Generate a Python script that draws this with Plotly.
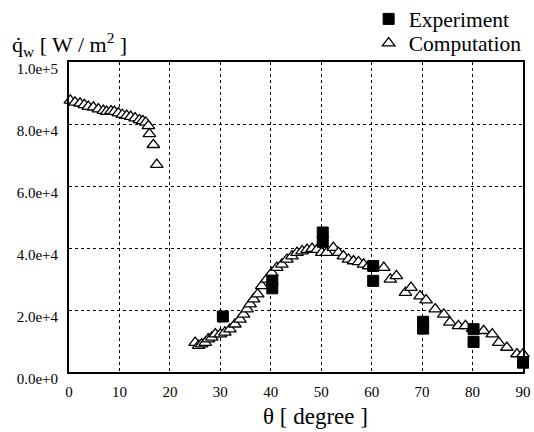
import plotly.graph_objects as go

# Computation (open triangles)
comp_theta = [0.26, 1.19, 2.18, 3.04, 3.83, 4.83, 5.82, 6.81, 7.47, 8.33, 9.0, 9.79,
              10.58, 11.44, 12.24, 13.1, 13.96, 14.62, 15.21, 15.74, 15.94, 16.73, 17.4,
              None,
              25.0, 25.7, 26.3, 27.0, 27.6, 28.3, 29.0, 30.0, 30.9, 31.9, 32.9, 33.9,
              34.6, 35.3, 35.9, 36.6, 37.4, 38.2, 39.2, 40.2, 41.2, 42.2, 43.2, 44.2,
              45.2, 46.2, 47.2, 48.2, 49.2, 50.1, 51.1, 52.4, 53.4, 54.4, 55.4, 56.4,
              57.4, 58.4, 59.4, 60.5, 62.4, 63.7, 64.9, 66.7, 67.8, 69.6, 70.8, 72.6,
              74.3, 75.5, 77.2, 78.6, 80.0, 82.2, 83.9, 85.2, 86.8, 88.8, 90.0]
comp_q = [87600, 87000, 86700, 86200, 85600, 85400, 84800, 84300, 84000, 84200, 84000, 83500,
          83000, 82700, 82400, 81900, 81300, 81000, 80500, 79400, 76800, 73300, 66900,
          None,
          9500, 8500, 9000, 9500, 10600, 11200, 12200, 12200, 12800, 13800, 15400, 17000,
          18600, 20300, 21900, 23500, 25100, 27800, 29900, 32000, 33700, 34700, 36300, 37400,
          38500, 39000, 39500, 39800, 39500, 38500, 38500, 40100, 38500, 37400, 36300, 35800,
          35500, 34700, 34200, 34000, 33700, 29900, 31000, 25600, 27200, 24500, 23200, 20300,
          18600, 16000, 14900, 14900, 14000, 13300, 12200, 9500, 7900, 5800, 5800]

# Experiment (filled squares)
exp_theta = [30.5, 40.3, 40.3, 50.3, 50.3, 60.3, 60.3, 70.2, 70.2, 80.2, 80.2, 90.0]
exp_q = [17900, 29500, 27000, 45000, 42000, 34200, 29400, 16200, 14000, 13800, 9700, 3000]

x_ticks = [0, 10, 20, 30, 40, 50, 60, 70, 80, 90]
y_ticks = [0, 20000, 40000, 60000, 80000, 100000]
y_tick_labels = ["0.0e+0", "2.0e+4", "4.0e+4", "6.0e+4", "8.0e+4", "1.0e+5"]

FONT = "Liberation Serif"

fig = go.Figure()
fig.add_trace(go.Scatter(
    x=comp_theta, y=comp_q, mode="markers", name="Computation",
    legend="legend2",
    marker=dict(symbol="triangle-up", size=11, color="white",
                line=dict(color="black", width=1.3)),
    cliponaxis=False,
))
fig.add_trace(go.Scatter(
    x=exp_theta, y=exp_q, mode="markers", name="Experiment",
    legend="legend",
    marker=dict(symbol="square", size=11, color="black",
                line=dict(color="black", width=1)),
    cliponaxis=False,
))

legend_style = dict(xanchor="left", yanchor="middle",
                    font=dict(family=FONT, size=21.5, color="black"),
                    bgcolor="rgba(0,0,0,0)", borderwidth=0,
                    itemsizing="trace")

fig.update_layout(
    width=534, height=432,
    margin=dict(l=69, r=11, t=62, b=60, autoexpand=False),
    paper_bgcolor="white", plot_bgcolor="white",
    font=dict(family=FONT, color="black"),
    showlegend=True,
    legend=dict(x=0.66, y=1.139, **legend_style),
    legend2=dict(x=0.66, y=1.061, **legend_style),
    xaxis=dict(range=[0, 90], tickvals=x_ticks, ticks="",
               showgrid=True, gridcolor="black", griddash="dot", gridwidth=1,
               showline=True, linecolor="black", linewidth=2, mirror=True,
               zeroline=False, tickfont=dict(family=FONT, size=15),
               ticklabelstandoff=5),
    yaxis=dict(range=[0, 100000], tickvals=y_ticks, ticktext=y_tick_labels, ticks="",
               showgrid=True, gridcolor="black", griddash="dot", gridwidth=1,
               showline=True, linecolor="black", linewidth=2, mirror=True,
               zeroline=False, tickfont=dict(family=FONT, size=15),
               ticklabelstandoff=6, ticklabelshift=7),
    annotations=[
        dict(text="q\u0307<sub>w</sub> [ W / m<sup>2</sup> ]", xref="paper", yref="paper",
             x=-0.13, y=1.055, xanchor="left", yanchor="middle", showarrow=False,
             font=dict(family=FONT, size=22, color="black")),
        dict(text="\u03b8 [ degree ]", xref="paper", yref="paper",
             x=0.544, y=-0.142, xanchor="center", yanchor="middle", showarrow=False,
             font=dict(family=FONT, size=23, color="black")),
    ],
)

fig.write_html("out.html", config={"displayModeBar": False},
               post_script="document.body.style.margin='0px';")
